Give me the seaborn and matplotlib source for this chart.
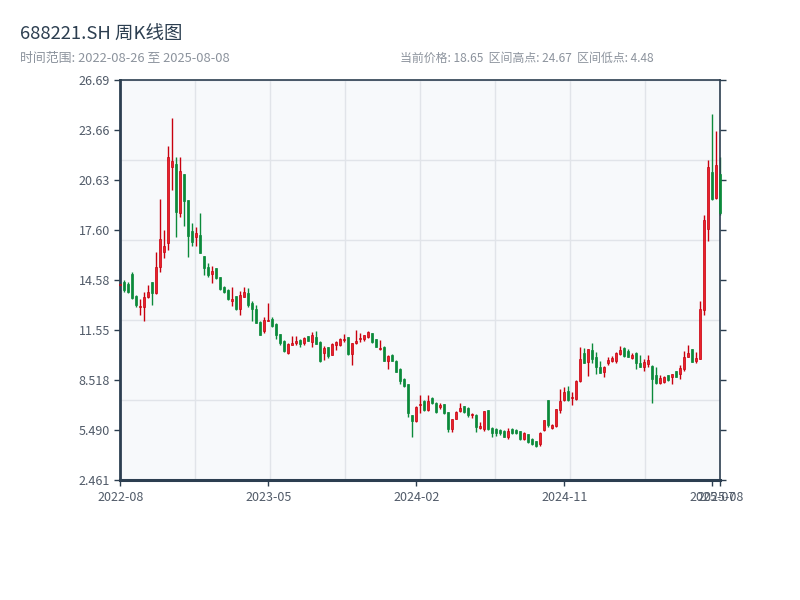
import numpy as np
import pandas as pd
import matplotlib
matplotlib.use('Agg')
import matplotlib.pyplot as plt
import seaborn as sns

code = '688221.SH'

## weekly bars: open / high / low / close
opens = [14.28, 14.49, 14.35, 14.95, 13.62, 12.97, 12.98, 13.54, 14.47, 13.79,
         15.40, 16.31, 16.81, 21.42, 21.62, 18.67, 21.02, 19.44, 17.58, 17.18,
         17.30, 16.05, 15.36, 14.96, 15.32, 14.76, 14.19, 13.99, 13.34, 13.62,
         12.82, 13.58, 13.83, 13.18, 12.86, 12.05, 11.48, 12.12, 12.21, 11.93,
         11.32, 10.92, 10.19, 10.68, 10.76, 10.96, 10.76, 11.20, 10.84, 11.16,
         10.84, 10.19, 10.51, 10.07, 10.64, 10.64, 10.96, 11.12, 10.11, 10.76,
         11.00, 11.00, 11.16, 11.36, 11.00, 10.43, 10.55, 9.71, 10.07, 9.71,
         9.22, 8.62, 8.29, 6.40, 6.03, 7.00, 7.28, 6.72, 7.45, 7.16,
         6.88, 7.08, 6.60, 5.59, 6.19, 6.64, 6.96, 6.84, 6.40, 6.44,
         5.63, 5.55, 6.72, 5.63, 5.59, 5.51, 5.47, 5.11, 5.55, 5.51,
         5.43, 4.94, 5.27, 4.98, 4.82, 4.66, 5.51, 7.32, 5.63, 5.75,
         6.72, 7.32, 7.85, 7.44, 7.41, 8.46, 10.15, 9.63, 10.35, 9.91,
         9.34, 9.02, 9.55, 9.67, 9.71, 10.11, 10.48, 10.31, 9.87, 10.19,
         9.59, 9.30, 9.50, 9.38, 8.82, 8.37, 8.41, 8.82, 8.70, 9.10,
         8.90, 9.18, 9.95, 10.40, 9.67, 9.83, 12.78, 17.70, 21.13, 19.56,
         21.01]
highs = [14.40, 14.59, 14.47, 15.08, 13.70, 13.46, 13.87, 14.27, 14.47, 16.29,
         19.48, 17.62, 22.71, 24.41, 22.02, 22.02, 21.02, 19.44, 18.03, 17.78,
         18.63, 16.05, 15.60, 15.44, 15.32, 14.80, 14.22, 14.02, 14.19, 13.65,
         13.91, 14.15, 14.11, 13.30, 13.06, 12.08, 12.37, 13.20, 12.33, 11.96,
         11.35, 10.95, 10.80, 11.20, 11.20, 11.04, 11.16, 11.23, 11.44, 11.52,
         10.87, 10.60, 10.54, 10.80, 10.92, 11.08, 11.32, 11.15, 10.78, 11.56,
         11.40, 11.28, 11.52, 11.39, 11.03, 10.96, 10.58, 10.03, 10.10, 9.74,
         9.24, 8.64, 8.31, 6.42, 6.96, 7.61, 7.32, 7.61, 7.49, 7.18,
         7.12, 7.10, 6.62, 6.19, 6.64, 7.12, 6.98, 6.90, 6.56, 6.50,
         5.99, 6.68, 6.74, 5.66, 5.63, 5.59, 5.51, 5.63, 5.63, 5.59,
         5.45, 5.39, 5.29, 5.00, 4.84, 5.39, 6.11, 7.32, 5.87, 6.80,
         7.97, 8.09, 8.17, 7.81, 8.54, 10.56, 10.48, 10.44, 10.80, 10.23,
         9.71, 9.38, 9.91, 9.99, 10.23, 10.60, 10.52, 10.40, 10.19, 10.23,
         10.03, 9.83, 10.03, 9.46, 9.30, 8.82, 8.78, 8.82, 8.90, 9.10,
         9.46, 10.27, 10.64, 10.40, 10.23, 13.30, 18.51, 21.86, 24.67, 23.60,
         22.06]
lows = [14.20, 13.89, 13.79, 13.46, 12.98, 12.49, 12.13, 13.50, 13.10, 13.73,
        15.08, 15.95, 16.41, 20.05, 17.22, 18.43, 17.86, 16.01, 16.65, 16.65,
        16.21, 14.92, 14.80, 14.43, 14.68, 13.99, 13.83, 13.38, 13.02, 12.78,
        12.49, 13.54, 12.98, 12.13, 11.97, 11.24, 11.36, 12.09, 11.73, 11.04,
        10.64, 10.23, 10.11, 10.66, 10.68, 10.52, 10.68, 10.88, 10.52, 10.72,
        9.63, 9.75, 9.87, 10.03, 10.35, 10.60, 10.84, 10.07, 9.46, 10.70,
        10.84, 10.92, 11.08, 10.80, 10.51, 10.35, 9.67, 9.22, 9.67, 9.02,
        8.29, 8.13, 6.32, 5.10, 6.00, 6.56, 6.68, 6.68, 7.08, 6.56,
        6.80, 6.48, 5.39, 5.39, 6.17, 6.60, 6.52, 6.32, 6.23, 5.39,
        5.59, 5.47, 5.51, 5.11, 5.14, 5.19, 5.06, 4.98, 5.27, 5.27,
        4.90, 4.90, 4.74, 4.62, 4.48, 4.54, 5.47, 5.67, 5.55, 5.71,
        6.56, 7.24, 7.28, 7.04, 7.32, 8.41, 9.55, 8.78, 9.55, 8.90,
        8.94, 8.74, 9.42, 9.63, 9.55, 10.03, 9.95, 9.91, 9.83, 9.18,
        9.34, 9.10, 9.30, 7.16, 8.29, 8.29, 8.37, 8.50, 8.29, 8.70,
        8.62, 9.06, 9.91, 9.63, 9.55, 9.79, 12.49, 16.98, 19.44, 19.52,
        18.55]
closes = [14.36, 13.99, 13.85, 13.50, 13.05, 13.01, 13.58, 13.89, 13.79, 15.36,
          17.06, 16.65, 22.02, 21.78, 18.73, 21.18, 19.40, 17.26, 16.89, 17.42,
          16.25, 15.32, 14.92, 15.12, 14.72, 14.03, 13.86, 13.42, 13.46, 12.82,
          13.66, 13.87, 13.10, 12.86, 12.00, 11.28, 12.17, 12.20, 11.81, 11.24,
          10.76, 10.27, 10.72, 10.80, 10.88, 10.72, 11.08, 10.90, 11.24, 10.74,
          9.71, 10.47, 9.99, 10.72, 10.84, 11.04, 11.00, 10.09, 10.76, 10.92,
          11.08, 11.24, 11.44, 10.83, 10.54, 10.47, 9.70, 9.99, 9.69, 9.05,
          8.50, 8.15, 6.52, 6.03, 6.92, 7.08, 6.72, 7.24, 7.12, 6.60,
          7.04, 6.52, 5.59, 6.15, 6.62, 6.84, 6.60, 6.40, 6.48, 5.67,
          5.75, 6.64, 5.59, 5.31, 5.31, 5.31, 5.10, 5.47, 5.31, 5.35,
          4.94, 5.31, 4.76, 4.64, 4.52, 5.35, 6.11, 5.79, 5.79, 6.80,
          7.28, 7.81, 7.30, 7.49, 8.50, 9.83, 9.59, 10.40, 9.79, 9.34,
          8.98, 9.34, 9.75, 9.87, 10.19, 10.35, 9.97, 9.93, 10.07, 9.59,
          9.34, 9.63, 9.75, 8.58, 8.37, 8.66, 8.70, 8.52, 8.90, 8.72,
          9.26, 9.91, 10.19, 9.65, 9.87, 12.86, 18.23, 21.42, 19.48, 21.54,
          18.65]

## weekly dates, weeks with no trading day (holidays) left out
weeks = pd.date_range('2022-08-26', '2025-08-08', freq='W-FRI')
holiday_weeks = pd.to_datetime(['2022-10-07', '2023-01-27', '2023-10-06', '2024-02-16'])
dates = weeks[~weeks.isin(holiday_weeks)]

df = pd.DataFrame({'date': dates, 'open': opens, 'high': highs,
                   'low': lows, 'close': closes})
n = len(df)

up_face, up_edge = '#e8222c', '#c8000e'
down_col = '#0b8a3a'
spine_col = '#2c3e50'
label_col = '#505a68'

sns.set_theme(style='white')
plt.rcParams['font.family'] = ['Noto Sans CJK SC', 'DejaVu Sans']

fig = plt.figure(figsize=(8, 6), dpi=100)
pos = [120.3/800, 1-480.3/600, 600/800, 400/600]

## background grid (fixed divisions)
gax = fig.add_axes(pos, zorder=0)
gax.set_facecolor('#f7f9fb')
gax.set_xlim(0, 1)
gax.set_ylim(0, 1)
gax.set_xticks(np.linspace(0, 1, 9))
gax.set_yticks(np.linspace(0, 1, 6))
gax.grid(True, color='#e1e4e9', lw=1)
gax.tick_params(length=0, labelbottom=False, labelleft=False)
for s in gax.spines.values():
    s.set_visible(False)

ax = fig.add_axes(pos, zorder=1)
ax.patch.set_visible(False)

x = np.arange(n)
is_up = df['close'] >= df['open']
line_cols = np.where(is_up, up_edge, down_col)
face_cols = np.where(is_up, up_face, down_col)
body_lo = np.minimum(df['open'], df['close'])
body_h = np.maximum((df['close'] - df['open']).abs(), 0.06)

ax.vlines(x, df['low'], df['high'], colors=line_cols, lw=1.0, clip_on=False, zorder=2)
ax.bar(x, body_h, bottom=body_lo, width=0.55, color=face_cols,
       edgecolor=line_cols, linewidth=0.5, clip_on=False, zorder=3)

lo, hi = df['low'].min(), df['high'].max()
pad = (hi - lo) * 0.1
ax.set_ylim(lo - pad, hi + pad)
yt = np.linspace(lo - pad, hi + pad, 9)
ax.set_yticks(yt)
ax.set_yticklabels([f'{v:#.4g}' for v in yt])

ax.set_xlim(0, n - 1)
step = n // 4
xt = list(range(0, n, step))
if xt[-1] != n - 1:
    xt.append(n - 1)
ax.set_xticks(xt)
ax.set_xticklabels([df['date'][i].strftime('%Y-%m') for i in xt])

ax.tick_params(axis='y', left=True, right=True, direction='out', length=4,
               width=1, color=spine_col, labelcolor=label_col, labelsize=9)
ax.tick_params(axis='x', bottom=True, direction='out', length=4, width=1,
               color=spine_col, labelcolor=label_col, labelsize=9)
ax.spines['left'].set_linewidth(2)
ax.spines['bottom'].set_linewidth(2.2)
ax.spines['top'].set_linewidth(1.2)
ax.spines['right'].set_linewidth(1.2)
for s in ax.spines.values():
    s.set_color(spine_col)
    s.set_visible(True)

last = df['close'].iloc[-1]
fig.text(20/800, 1-35/600, '{} 周K线图'.format(code), fontsize=13.3,
         color=spine_col, va='center', ha='left')
fig.text(20/800, 1-58/600, '时间范围: {} 至 {}'.format('2022-08-26', '2025-08-08'),
         fontsize=9.3, color='#8c939d', va='center', ha='left')
fig.text(400/800, 1-58/600,
         '当前价格: {:.2f}  区间高点: {:.2f}  区间低点: {:.2f}'.format(last, hi, lo),
         fontsize=8.6, color='#8c939d', va='center', ha='left')

fig.savefig('out.png', dpi=100, facecolor='white')
